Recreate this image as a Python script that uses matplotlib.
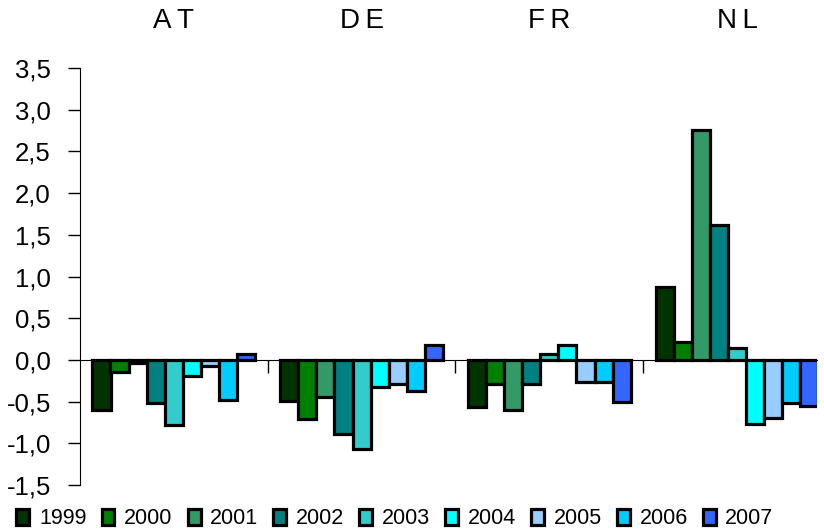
import numpy as np
import matplotlib
matplotlib.use('Agg')
import matplotlib.pyplot as plt
import matplotlib.transforms as mtransforms
from matplotlib.patches import Patch

plt.rcParams['font.family'] = ['Liberation Sans', 'DejaVu Sans']

countries = ['A\u2009T', 'D\u2009E', 'F\u2009R', 'N\u2009L']
years = ['1999', '2000', '2001', '2002', '2003', '2004', '2005', '2006', '2007']
colors = ['#003300', '#008000', '#339966', '#008080', '#33CCCC',
          '#00FFFF', '#99CCFF', '#00CCFF', '#3366FF']

# one list per country, values for 1999..2007
at = [-0.60, -0.15, -0.04, -0.52, -0.78, -0.19, -0.07, -0.48, 0.07]
de = [-0.49, -0.71, -0.45, -0.89, -1.07, -0.33, -0.29, -0.37, 0.18]
fr = [-0.56, -0.29, -0.60, -0.29, 0.07, 0.18, -0.26, -0.26, -0.51]
nl = [0.88, 0.22, 2.76, 1.62, 0.14, -0.77, -0.70, -0.52, -0.55]
yticks = [-1.5, -1.0, -0.5, 0.0, 0.5, 1.0, 1.5, 2.0, 2.5, 3.0, 3.5]

W, H = 824, 529
fig = plt.figure(figsize=(W/100, H/100), dpi=100)
left, right, top, bottom = 80, 817, 68, 485
ax = fig.add_axes([left/W, 1-bottom/H, (right-left)/W, (bottom-top)/H])

data = np.array([at, de, fr, nl])
cat_px = 187.7
bw = 18.1/cat_px
x = np.arange(len(countries))
for j, yr in enumerate(years):
    ax.bar(x + (j-4)*bw, data[:, j], width=bw, color=colors[j],
           edgecolor='black', linewidth=2.3, zorder=3)

ax.set_xlim(-0.5, -0.5 + (right-left)/cat_px)
ax.set_ylim(-1.5, 3.5)
ax.set_yticks(yticks)
ax.set_yticklabels([('%.1f' % v).replace('.', ',') for v in yticks], fontsize=18.5)
ax.tick_params(axis='y', direction='out', length=9, width=1, pad=12)

ax.spines['top'].set_visible(False)
ax.spines['right'].set_visible(False)
ax.spines['bottom'].set_position(('data', 0))
ax.spines['bottom'].set_zorder(2)
ax.set_xticks([0.5, 1.5, 2.5])
ax.set_xticklabels([])
ax.tick_params(axis='x', direction='out', length=9, width=1)

# country names above each group
trans = mtransforms.blended_transform_factory(ax.transData, fig.transFigure)
for i, c in enumerate(countries):
    ax.text(i, 1-21/H, c, transform=trans, ha='center', va='center', fontsize=20)

handles = [Patch(facecolor=colors[j], edgecolor='black', linewidth=2.3, label=years[j])
           for j in range(len(years))]
fig.legend(handles=handles, loc='center', bbox_to_anchor=(395/W, 10/H), ncol=9,
           frameon=False, fontsize=15.5, handlelength=0.6, handleheight=0.75,
           handletextpad=0.45, columnspacing=0.7, borderpad=0)

fig.savefig('out.png', dpi=100)
